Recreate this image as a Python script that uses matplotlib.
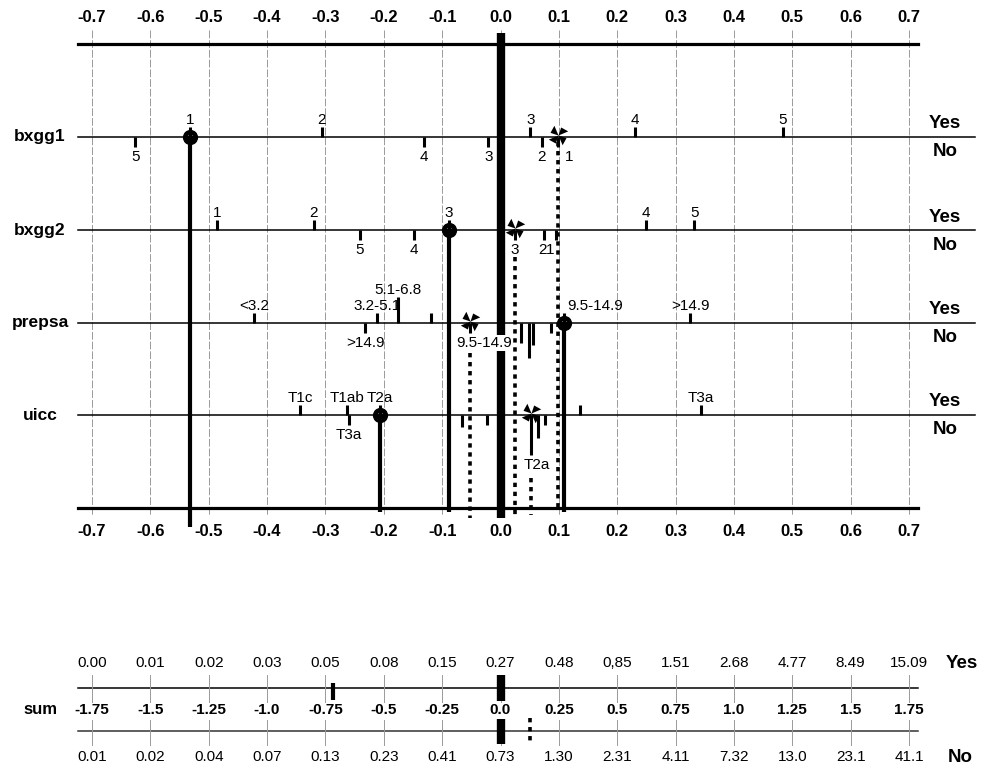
import numpy as np
import matplotlib.pyplot as plt
from matplotlib.path import Path

plt.rcParams['font.family'] = ['Liberation Sans', 'DejaVu Sans']

# score axis (top / bottom of the nomogram)
score_ticks = [-0.7, -0.6, -0.5, -0.4, -0.3, -0.2, -0.1, 0.0, 0.1, 0.2, 0.3, 0.4, 0.5, 0.6, 0.7]
row_names = ['bxgg1', 'bxgg2', 'prepsa', 'uicc']

bxgg1_yes_lab = ['1', '2', '3', '4', '5']
bxgg1_yes_val = [-0.532, -0.306, 0.051, 0.230, 0.484]
bxgg1_yes_len = [10, 10, 10, 10, 10]
bxgg1_no_lab = ['5', '4', '3', '2', '1']
bxgg1_no_val = [-0.626, -0.131, -0.021, 0.071, 0.099]
bxgg1_no_len = [10, 10, 10, 10, 10]

bxgg2_yes_lab = ['1', '2', '3', '4', '5']
bxgg2_yes_val = [-0.486, -0.320, -0.088, 0.249, 0.332]
bxgg2_yes_len = [10, 10, 10, 10, 10]
bxgg2_no_lab = ['5', '4', '3', '2', '1']
bxgg2_no_val = [-0.241, -0.148, 0.025, 0.075, 0.095]
bxgg2_no_len = [10, 10, 10, 10, 10]

prepsa_yes_lab = ['<3.2', '3.2-5.1', '5.1-6.8', '', '9.5-14.9', '>14.9']
prepsa_yes_val = [-0.422, -0.212, -0.176, -0.119, 0.109, 0.325]
prepsa_yes_len = [10, 10, 26, 10, 10, 10]
prepsa_no_lab = ['>14.9', '9.5-14.9', '', '', '', '']
prepsa_no_val = [-0.232, -0.052, 0.035, 0.049, 0.056, 0.087]
prepsa_no_len = [10, 10, 20, 35, 22, 10]

uicc_yes_lab = ['T1c', 'T1ab', 'T2a', '', 'T3a']
uicc_yes_val = [-0.343, -0.263, -0.206, 0.136, 0.344]
uicc_yes_len = [10, 10, 10, 10, 10]
uicc_no_lab = ['T3a', '', '', 'T2a', '', '']
uicc_no_val = [-0.260, -0.066, -0.023, 0.053, 0.064, 0.076]
uicc_no_len = [10, 12, 10, 40, 23, 10]

# the observation marked for each outcome
yes_pick = ['1', '3', '9.5-14.9', 'T2a']
no_pick = ['1', '3', '9.5-14.9', 'T2a']

# sum axis with odds for Yes / No
sum_ticks = [-1.75, -1.5, -1.25, -1.0, -0.75, -0.5, -0.25, 0.0, 0.25, 0.5, 0.75, 1.0, 1.25, 1.5, 1.75]
sum_labels = ['-1.75', '-1.5', '-1.25', '-1.0', '-0.75', '-0.5', '-0.25', '0.0',
              '0.25', '0.5', '0.75', '1.0', '1.25', '1.5', '1.75']
yes_odds = ['0.00', '0.01', '0.02', '0.03', '0.05', '0.08', '0.15', '0.27',
            '0.48', '0,85', '1.51', '2.68', '4.77', '8.49', '15.09']
no_odds = ['0.01', '0.02', '0.04', '0.07', '0.13', '0.23', '0.41', '0.73',
           '1.30', '2.31', '4.11', '7.32', '13.0', '23.1', '41.1']

rows = [
    (bxgg1_yes_lab, bxgg1_yes_val, bxgg1_yes_len, bxgg1_no_lab, bxgg1_no_val, bxgg1_no_len),
    (bxgg2_yes_lab, bxgg2_yes_val, bxgg2_yes_len, bxgg2_no_lab, bxgg2_no_val, bxgg2_no_len),
    (prepsa_yes_lab, prepsa_yes_val, prepsa_yes_len, prepsa_no_lab, prepsa_no_val, prepsa_no_len),
    (uicc_yes_lab, uicc_yes_val, uicc_yes_len, uicc_no_lab, uicc_no_val, uicc_no_len),
]

W, H = 981, 770
X0, S = 500.5, 583.6       # pixel of 0 and pixels per unit
row_y = [137, 230, 323, 415]
LEFT, RIGHT = 78, 918


def px(v):
    return (v - X0) / S


# pinwheel marker for the "No" observation: 4 wedge blades
verts, codes = [], []
for k in range(4):
    a = np.pi / 2 * k + 0.4
    verts += [(0, 0), (np.cos(a), np.sin(a)), (0.8 * np.cos(a + 0.85), 0.8 * np.sin(a + 0.85)), (0, 0)]
    codes += [Path.MOVETO, Path.LINETO, Path.LINETO, Path.CLOSEPOLY]
pinwheel = Path(verts, codes)

fig = plt.figure(figsize=(W / 100, H / 100), dpi=100)
ax = fig.add_axes([0, 0, 1, 1])
ax.set_xlim(px(0), px(W))
ax.set_ylim(H, 0)
ax.axis('off')

# grid + score axis labels
for t in score_ticks:
    ax.plot([t, t], [30, 516], color='#9a9a9a', lw=0.7, ls=(0, (8, 2)), zorder=1)
    lab = '%.1f' % t
    ax.text(t, 17, lab, ha='center', va='center', fontsize=12, fontweight='bold')
    ax.text(t, 531, lab, ha='center', va='center', fontsize=12, fontweight='bold')

ax.plot([px(LEFT), px(RIGHT)], [44, 44], color='black', lw=2.3, zorder=2)
ax.plot([px(LEFT), px(RIGHT)], [508, 508], color='black', lw=2.3, zorder=2)
ax.plot([0, 0], [33, 518], color='black', lw=6, solid_capstyle='butt', zorder=3)

# label nudges (px) where labels would collide
nudge = {(0, 'no', '1'): (11, 0), (1, 'no', '1'): (-6, 0), (1, 'no', '2'): (-2, 0),
         (2, 'yes', '9.5-14.9'): (31, 0), (2, 'no', '9.5-14.9'): (14, 0),
         (3, 'no', 'T2a'): (5, 0)}

solid_end = [527, 512, 512, 512]
dot_start = [5, 27, 30, 63]
dot_end = [510, 518, 518, 515]

sum_yes = 0.0
sum_no = 0.0
for i, (ylab, yval, ylen, nlab, nval, nlen) in enumerate(rows):
    y = row_y[i]
    ax.plot([px(LEFT), px(975)], [y, y], color='black', lw=1.1, zorder=2)
    ax.text(px(40), y, row_names[i], ha='center', va='center', fontsize=12.5, fontweight='bold')
    ax.text(px(945), y - 13, 'Yes', ha='center', va='center', fontsize=13.5, fontweight='bold')
    ax.text(px(945), y + 15, 'No', ha='center', va='center', fontsize=13.5, fontweight='bold')

    for lab, v, ln in zip(ylab, yval, ylen):
        ax.plot([v, v], [y, y - ln], color='black', lw=2.2, solid_capstyle='butt', zorder=4)
        if lab:
            dx, dy = nudge.get((i, 'yes', lab), (0, 0))
            ax.text(v + dx / S, y - ln - 3 + dy, lab, ha='center', va='baseline', fontsize=11, zorder=6)
    for lab, v, ln in zip(nlab, nval, nlen):
        ax.plot([v, v], [y, y + ln], color='black', lw=2.2, solid_capstyle='butt', zorder=4)
        if lab:
            dx, dy = nudge.get((i, 'no', lab), (0, 0))
            bb = dict(facecolor='white', edgecolor='none', pad=0.5) if (i == 2 and lab == '9.5-14.9') else None
            ax.text(v + dx / S, y + ln + 3 + dy, lab, ha='center', va='top', fontsize=11, zorder=6, bbox=bb)

    vy = yval[ylab.index(yes_pick[i])]
    vn = nval[nlab.index(no_pick[i])]
    sum_yes += vy
    sum_no += vn
    ax.plot([vy, vy], [y, solid_end[i]], color='black', lw=3, solid_capstyle='butt', zorder=5)
    ax.plot([vn, vn], [y + dot_start[i], dot_end[i]], color='black', lw=2.6,
            ls=(0, (1.2, 1.3)), dash_capstyle='butt', zorder=5)
    ax.plot(vy, y, marker='$\u263b$', ms=10, color='black', zorder=7, ls='none')
    ax.plot(vn, y - 2, marker=pinwheel, ms=14, color='black', mew=0, zorder=7, ls='none')

# sum section on its own scale
ax2 = fig.add_axes([0, 0, 1, 1])
ax2.set_xlim(px(0) * 2.5, px(W) * 2.5)
ax2.set_ylim(H, 0)
ax2.axis('off')
ax2.patch.set_alpha(0)

ax2.plot([px(LEFT) * 2.5, px(RIGHT) * 2.5], [688, 688], color='black', lw=1.1)
ax2.plot([px(LEFT) * 2.5, px(RIGHT) * 2.5], [731, 731], color='#333333', lw=1.1)
for t, sl, yo, no in zip(sum_ticks, sum_labels, yes_odds, no_odds):
    ax2.plot([t, t], [675, 702], color='#9a9a9a', lw=0.7)
    ax2.plot([t, t], [720, 745], color='#9a9a9a', lw=0.7)
    ax2.text(t, 663, yo, ha='center', va='center', fontsize=11)
    ax2.text(t, 710, sl, ha='center', va='center', fontsize=11, fontweight='bold')
    ax2.text(t, 757, no, ha='center', va='center', fontsize=11)

ax2.plot([0, 0], [675, 701], color='black', lw=6, solid_capstyle='butt')
ax2.plot([0, 0], [719, 744], color='black', lw=6, solid_capstyle='butt')
ax2.plot([sum_yes, sum_yes], [683, 700], color='black', lw=3, solid_capstyle='butt')
ax2.plot([sum_no, sum_no], [718, 745], color='black', lw=2.6, ls=(0, (1.2, 1.3)), dash_capstyle='butt')

ax2.text(px(40) * 2.5, 710, 'sum', ha='center', va='center', fontsize=12, fontweight='bold')
ax2.text(px(962) * 2.5, 663, 'Yes', ha='center', va='center', fontsize=13.5, fontweight='bold')
ax2.text(px(960) * 2.5, 757, 'No', ha='center', va='center', fontsize=13.5, fontweight='bold')

fig.savefig('out.png', dpi=100)
